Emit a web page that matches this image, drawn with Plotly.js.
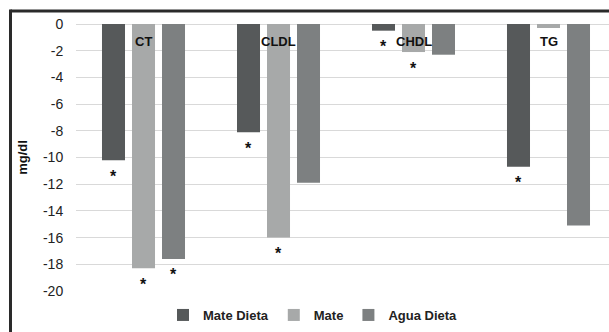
<!DOCTYPE html>
<html>
<head>
<meta charset="utf-8">
<script src="https://cdn.plot.ly/plotly-3.0.1.min.js"></script>
<style>
  html, body { margin: 0; padding: 0; background: #ffffff; }
  #chart { width: 609px; height: 332px; }
</style>
</head>
<body>
<div id="chart"></div>
<script>
// ---- data ----
const categories = ["CT", "CLDL", "CHDL", "TG"];
const seriesNames = ["Mate Dieta", "Mate", "Agua Dieta"];
const mateDieta = [-10.2, -8.1, -0.5, -10.7];
const mate      = [-18.3, -16.0, -2.1, -0.3];
const aguaDieta = [-17.6, -11.9, -2.3, -15.1];
// significance markers (true = "*" under the bar)
const sigMateDieta = [true, true, true, true];
const sigMate      = [true, true, true, false];
const sigAguaDieta = [true, false, false, false];
const tickValues = [0, -2, -4, -6, -8, -10, -12, -14, -16, -18, -20];
const tickLabels = ["0", "-2", "-4", "-6", "-8", "-10", "-12", "-14", "-16", "-18", "-20"];

const colors = ["#56595a", "#a7a9a9", "#7d8081"];
const allValues = [mateDieta, mate, aguaDieta];
const allSig = [sigMateDieta, sigMate, sigAguaDieta];

const FONT = "'Liberation Sans', Arial, sans-serif";
const bargap = 1 / 3;
const slot = (1 - bargap) / seriesNames.length;

const traces = seriesNames.map((name, j) => ({
  type: "bar",
  name: name,
  x: categories,
  y: allValues[j],
  marker: { color: colors[j] },
  hoverinfo: "skip"
}));

const annotations = [];
// category labels near the top
categories.forEach((c, i) => {
  annotations.push({
    x: i, y: 0, xref: "x", yref: "y",
    text: "<b>" + c + "</b>", showarrow: false,
    yanchor: "middle", yshift: -17,
    font: { family: FONT, size: 13, color: "#111111" }
  });
});
// asterisks under significant bars
allSig.forEach((sig, j) => {
  sig.forEach((s, i) => {
    if (!s) return;
    annotations.push({
      x: i + (j - 1) * slot, y: allValues[j][i], xref: "x", yref: "y",
      text: "<b>*</b>", showarrow: false,
      yanchor: "middle", yshift: -16,
      font: { family: FONT, size: 16, color: "#111111" }
    });
  });
});

const plotL = 76, plotT = 24, plotW = 533, plotH = 267;
const px = (p) => (p - plotL) / plotW;
const py = (p) => 1 - (p - plotT) / plotH;

const layout = {
  width: 609, height: 332,
  margin: { l: plotL, r: 609 - plotL - plotW, t: plotT, b: 332 - plotT - plotH, pad: 0 },
  paper_bgcolor: "#ffffff",
  plot_bgcolor: "#ffffff",
  barmode: "group",
  bargap: bargap,
  bargroupgap: 0.233,
  showlegend: true,
  legend: {
    orientation: "h", x: px(313), xanchor: "center", y: py(315), yanchor: "middle",
    font: { family: FONT, size: 13, color: "#222222", weight: "bold" },
    bgcolor: "rgba(0,0,0,0)"
  },
  xaxis: {
    type: "category",
    range: [-0.5, -0.5 + plotW / 135],
    showticklabels: false, showgrid: false, zeroline: false, showline: false,
    ticks: "", fixedrange: true
  },
  yaxis: {
    range: [-20, 0],
    tickvals: tickValues, ticktext: tickLabels,
    tickfont: { family: FONT, size: 14, color: "#222222" },
    ticks: "outside", ticklen: 9, tickcolor: "rgba(0,0,0,0)",
    showgrid: true, gridcolor: "#d9d9d9", gridwidth: 1,
    zeroline: true, zerolinecolor: "#d9d9d9", zerolinewidth: 1,
    showline: false, automargin: false, fixedrange: true,
    title: { text: "<b>mg/dl</b>", font: { family: FONT, size: 13, color: "#111111" }, standoff: 12 }
  },
  annotations: annotations,
  shapes: [
    { type: "line", xref: "paper", yref: "paper", x0: px(10.5), x1: px(620), y0: py(11), y1: py(11),
      line: { color: "#2a2a2a", width: 3 } },
    { type: "line", xref: "paper", yref: "paper", x0: px(10.5), x1: px(10.5), y0: py(9.5), y1: py(345),
      line: { color: "#2a2a2a", width: 3 } }
  ]
};

Plotly.newPlot("chart", traces, layout, { staticPlot: true, displayModeBar: false });
</script>
</body>
</html>
